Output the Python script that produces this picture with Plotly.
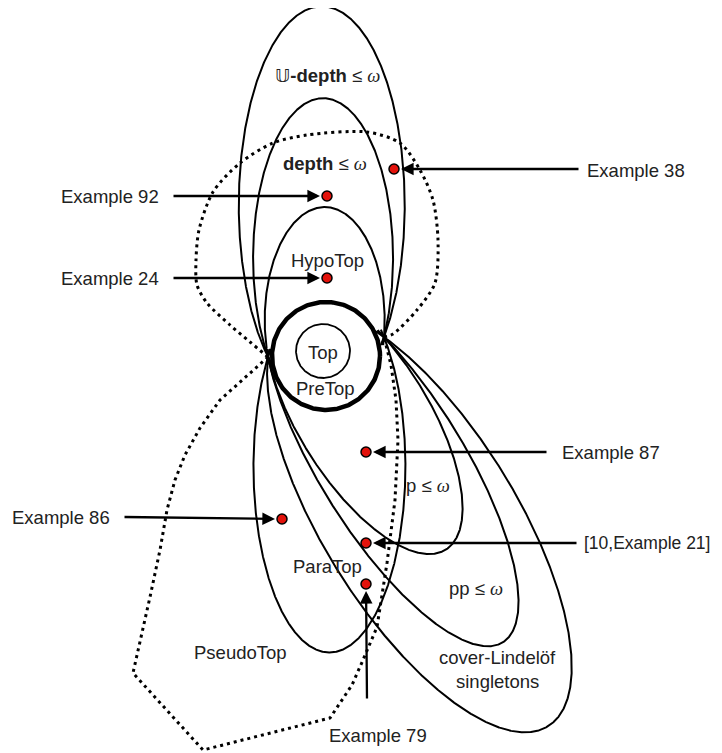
import numpy as np
import plotly.graph_objects as go

W, H = 722, 753
PAGE_MARGIN = 8  # default body margin of the written page

# ---- pinch points and the PreTop / Top circles ----
pinch_left = (268, 357)
pinch_right = (384, 337)
pretop_center = (326, 356)
pretop_radius = 54
top_center = (323, 351)
top_radius = 27

# ---- nested regions (ellipses through the two pinch points) ----
region_names = ["U-depth", "depth", "HypoTop", "ParaTop", "p", "pp", "cover-Lindelof"]
semi_major = [199, 160, 113, 186, 155, 210, 243]
semi_minor = [83, 70, 60, 76, 65, 72, 96]
tilt_deg = [90, 90, 90, 90, 58, 58, 58]
bulge = ["up", "up", "up", "down", "down", "down", "down"]

# ---- PseudoTop dotted outline ----
pseudo_upper_x = [268, 250, 230, 207, 197, 196, 199, 213, 240, 273, 307, 367, 400, 420, 433, 438, 435, 417, 393, 384]
pseudo_upper_y = [357, 342, 325, 303, 285, 260, 230, 192, 163, 143, 135, 132, 143, 170, 200, 240, 283, 310, 334, 337]
pseudo_lower_x = [268, 245, 220, 200, 185, 175, 167, 160, 150, 133, 203, 330, 352, 363, 377, 387, 395, 398, 396, 391, 384]
pseudo_lower_y = [357, 378, 400, 428, 455, 480, 510, 550, 597, 673, 750, 718, 685, 660, 627, 563, 500, 440, 400, 365, 337]

# ---- labels ----
OMEGA = "<span style='font-family:Liberation Serif, DejaVu Serif, serif'><i>ω</i></span>"
DBLU = "<span style='font-family:DejaVu Sans, sans-serif'>𝕌</span>"
label_text = [
    DBLU + "<b>-depth</b> ≤ " + OMEGA, "<b>depth</b> ≤ " + OMEGA, "HypoTop", "Top", "PreTop",
    "p ≤ " + OMEGA, "ParaTop", "pp ≤ " + OMEGA, "cover-Lindelöf", "singletons", "PseudoTop",
]
label_x = [327, 325, 327, 323, 325, 428, 327, 476, 497, 497, 240]
label_y = [75, 163, 260, 352, 388, 485, 566, 588, 657, 681, 652]

# ---- examples (red points) ----
example_text = ["Example 38", "Example 92", "Example 24", "Example 87", "Example 86",
                "[10,Example 21]", "Example 79"]
dot_x = [394, 327, 327, 366, 282, 366, 366]
dot_y = [169, 196, 278, 452, 519, 543, 584]
tail_x = [580, 172, 172, 548, 123, 578, 367]
tail_y = [169, 196, 278, 452, 517, 543, 700]
ex_label_x = [585, 161, 161, 560, 112, 582, 378]
ex_label_y = [170, 196, 278, 452, 517, 543, 735]
ex_anchor = ["left", "right", "right", "left", "right", "left", "center"]
ex_size = [18.5, 18.5, 18.5, 18.5, 18.5, 17.5, 18.5]


def ellipse_arc(a, b, tdeg, side):
    th = np.radians(tdeg)
    u = np.array([np.cos(th), np.sin(th)])
    n = np.array([-np.sin(th), np.cos(th)])
    P = np.array(pinch_left, float)
    Q = np.array(pinch_right, float)

    def to_s(p):
        return np.array([p @ u / a, p @ n / b])

    Ps, Qs = to_s(P), to_s(Q)
    M = (Ps + Qs) / 2
    d = Qs - Ps
    dist = np.linalg.norm(d)
    h = np.sqrt(max(1 - (dist / 2) ** 2, 0))
    perp = np.array([-d[1], d[0]]) / dist
    cands = []
    for sgn in (1, -1):
        cs = M + sgn * h * perp
        cands.append(cs[0] * a * u + cs[1] * b * n)
    if side == "up":
        c = min(cands, key=lambda v: v[1])
    else:
        c = max(cands, key=lambda v: v[1])
    t = np.linspace(0, 2 * np.pi, 1500)
    pts = c[None, :] + np.outer(a * np.cos(t), u) + np.outer(b * np.sin(t), n)
    cc = np.array(pretop_center, float)
    rr = np.linalg.norm(pts - cc, axis=1)
    chord = Q - P
    cl = np.linalg.norm(chord)
    cross = (chord[0] * (pts[:, 1] - P[1]) - chord[1] * (pts[:, 0] - P[0])) / cl
    csign = np.sign(chord[0] * (c[1] - P[1]) - chord[1] * (c[0] - P[0]))
    keep = (rr > pretop_radius - 1) & (cross * csign > -8)
    xs = np.where(keep, pts[:, 0], np.nan)
    ys = np.where(keep, pts[:, 1], np.nan)
    idx = np.where(~keep)[0]
    if len(idx):
        k = idx[0]
        xs = np.roll(xs, -k)
        ys = np.roll(ys, -k)
    return xs, ys


fig = go.Figure()

for name, a, b, tdeg, side in zip(region_names, semi_major, semi_minor, tilt_deg, bulge):
    xs, ys = ellipse_arc(a, b, tdeg, side)
    fig.add_trace(go.Scatter(x=xs, y=ys, mode="lines", line=dict(color="black", width=2),
                             connectgaps=False, hoverinfo="skip", name=name))

fig.add_trace(go.Scatter(x=pseudo_upper_x, y=pseudo_upper_y, mode="lines",
                         line=dict(color="black", width=3, dash="3px,4px", shape="spline", smoothing=0.8),
                         hoverinfo="skip"))
fig.add_trace(go.Scatter(x=pseudo_lower_x, y=pseudo_lower_y, mode="lines",
                         line=dict(color="black", width=3, dash="3px,4px"),
                         hoverinfo="skip"))

tt = np.linspace(0, 2 * np.pi, 300)
fig.add_trace(go.Scatter(x=pretop_center[0] + pretop_radius * np.cos(tt),
                         y=pretop_center[1] + pretop_radius * np.sin(tt),
                         mode="lines", line=dict(color="black", width=4.5), hoverinfo="skip"))
fig.add_trace(go.Scatter(x=top_center[0] + top_radius * np.cos(tt),
                         y=top_center[1] + top_radius * np.sin(tt),
                         mode="lines", line=dict(color="black", width=1.8), hoverinfo="skip"))

for i in range(len(dot_x)):
    fig.add_annotation(x=dot_x[i], y=dot_y[i], ax=tail_x[i], ay=tail_y[i],
                       xref="x", yref="y", axref="x", ayref="y", text="",
                       showarrow=True, arrowhead=2, arrowsize=1.1, arrowwidth=2.3,
                       arrowcolor="black", standoff=7)

fig.add_trace(go.Scatter(x=dot_x, y=dot_y, mode="markers",
                         marker=dict(size=10, color="#e3120b", line=dict(color="black", width=1.5)),
                         hoverinfo="skip"))

font = dict(family="Liberation Sans, Arial, sans-serif", size=18.5, color="#222")
for t, x, y in zip(label_text, label_x, label_y):
    fig.add_annotation(x=x, y=y, text=t, showarrow=False, font=font,
                       xanchor="center", yanchor="middle")
for t, x, y, anc, sz in zip(example_text, ex_label_x, ex_label_y, ex_anchor, ex_size):
    fig.add_annotation(x=x, y=y, text=t, showarrow=False, font=dict(font, size=sz),
                       xanchor=anc, yanchor="middle")

fig.update_layout(
    width=W - PAGE_MARGIN, height=H - PAGE_MARGIN, margin=dict(l=0, r=0, t=0, b=0),
    plot_bgcolor="white", paper_bgcolor="white", showlegend=False,
    xaxis=dict(range=[PAGE_MARGIN, W], visible=False, fixedrange=True),
    yaxis=dict(range=[H, PAGE_MARGIN], visible=False, fixedrange=True),
)
fig.write_html("out.html")
